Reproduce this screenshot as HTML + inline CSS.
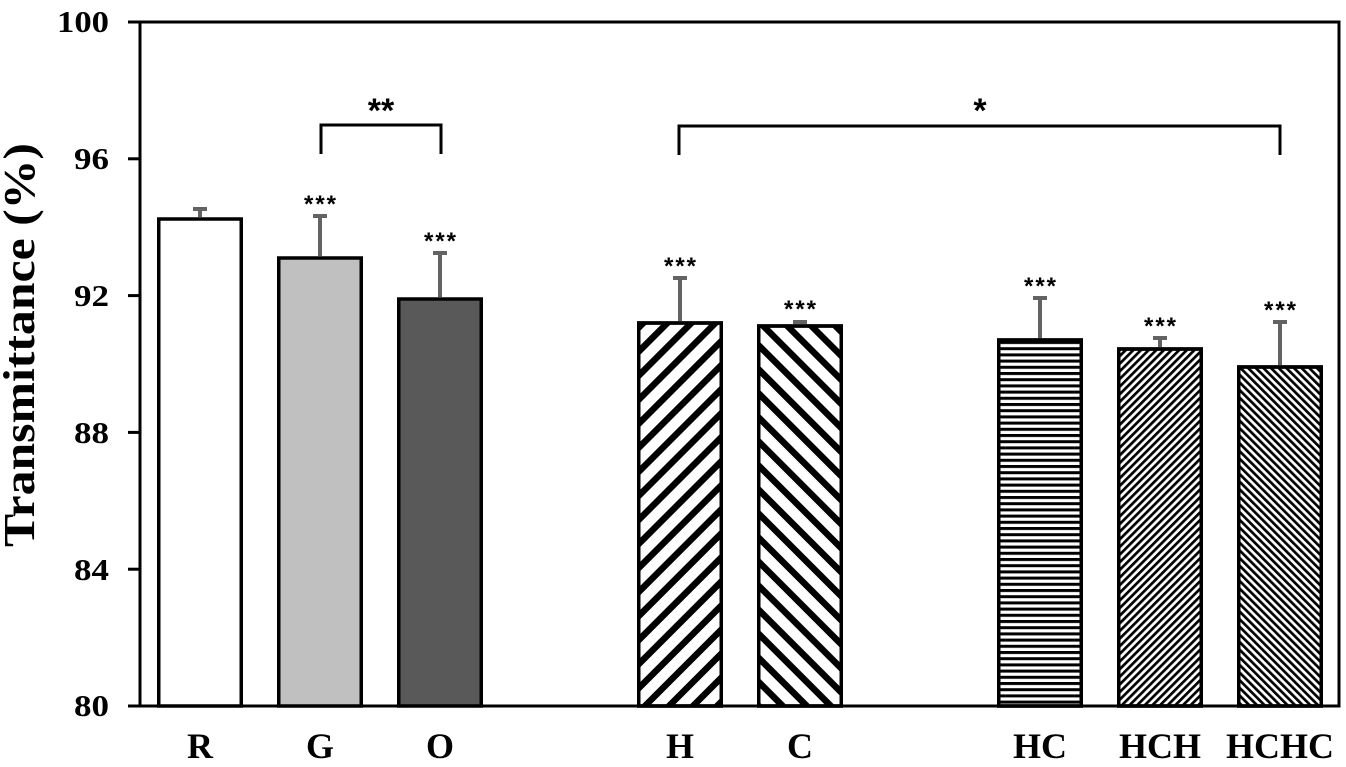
<!DOCTYPE html>
<html><head><meta charset="utf-8"><style>
html,body{margin:0;padding:0;background:#fff;}
svg{display:block;}
</style></head><body>
<svg width="1346" height="767" viewBox="0 0 1346 767" xmlns="http://www.w3.org/2000/svg">
<defs>
<pattern id="pH" patternUnits="userSpaceOnUse" width="17" height="17" patternTransform="rotate(45)">
<rect x="0" y="0" width="6.5" height="17" fill="#000"/></pattern>
<pattern id="pC" patternUnits="userSpaceOnUse" width="17" height="17" patternTransform="rotate(-45)">
<rect x="0" y="0" width="6.5" height="17" fill="#000"/></pattern>
<pattern id="pHC" patternUnits="userSpaceOnUse" width="10" height="6.2">
<rect x="0" y="0" width="10" height="3" fill="#000"/></pattern>
<pattern id="pHCH" patternUnits="userSpaceOnUse" width="5.4" height="5.4" patternTransform="rotate(45)">
<rect x="0" y="0" width="2.7" height="5.4" fill="#000"/></pattern>
<pattern id="pHCHC" patternUnits="userSpaceOnUse" width="5.4" height="5.4" patternTransform="rotate(-45)">
<rect x="0" y="0" width="2.7" height="5.4" fill="#000"/></pattern>
</defs>

<!-- frame -->
<rect x="140" y="22" width="1199" height="684" fill="none" stroke="#000" stroke-width="3"/>
<!-- ticks -->
<g stroke="#000" stroke-width="3">
<line x1="128" y1="22" x2="140" y2="22"/>
<line x1="128" y1="158.8" x2="140" y2="158.8"/>
<line x1="128" y1="295.6" x2="140" y2="295.6"/>
<line x1="128" y1="432.4" x2="140" y2="432.4"/>
<line x1="128" y1="569.2" x2="140" y2="569.2"/>
<line x1="128" y1="706" x2="140" y2="706"/>
</g>
<g font-family="'Liberation Serif', serif" font-weight="bold" font-size="31" text-anchor="end" fill="#000">
<text x="109" y="32" textLength="52" lengthAdjust="spacingAndGlyphs">100</text>
<text x="109" y="169" textLength="35" lengthAdjust="spacingAndGlyphs">96</text>
<text x="109" y="306" textLength="35" lengthAdjust="spacingAndGlyphs">92</text>
<text x="109" y="443" textLength="35" lengthAdjust="spacingAndGlyphs">88</text>
<text x="109" y="580" textLength="35" lengthAdjust="spacingAndGlyphs">84</text>
<text x="109" y="716" textLength="35" lengthAdjust="spacingAndGlyphs">80</text>
</g>
<text transform="translate(34,345) rotate(-90)" text-anchor="middle" font-family="'Liberation Serif', serif" font-weight="bold" font-size="44" textLength="404" lengthAdjust="spacingAndGlyphs">Transmittance  (%)</text>

<!-- bars -->
<g stroke="#000" stroke-width="3.5">
<rect x="158.75" y="219" width="82.5" height="487" fill="#fff"/>
<rect x="278.75" y="258" width="82.5" height="448" fill="#c0c0c0"/>
<rect x="398.75" y="299" width="82.5" height="407" fill="#595959"/>
<rect x="638.75" y="323" width="82.5" height="383" fill="#fff"/>
<rect x="638.75" y="323" width="82.5" height="383" fill="url(#pH)"/>
<rect x="758.75" y="326" width="82.5" height="380" fill="#fff"/>
<rect x="758.75" y="326" width="82.5" height="380" fill="url(#pC)"/>
<rect x="998.75" y="340" width="82.5" height="366" fill="#fff"/>
<rect x="998.75" y="340" width="82.5" height="366" fill="url(#pHC)"/>
<rect x="1118.75" y="349" width="82.5" height="357" fill="#fff"/>
<rect x="1118.75" y="349" width="82.5" height="357" fill="url(#pHCH)"/>
<rect x="1238.75" y="367" width="82.5" height="339" fill="#fff"/>
<rect x="1238.75" y="367" width="82.5" height="339" fill="url(#pHCHC)"/>
</g>
<line x1="140" y1="706" x2="1339" y2="706" stroke="#000" stroke-width="3"/>

<!-- error bars -->
<g stroke="#636363" stroke-width="4" fill="none">
<path d="M200 217 V209 M193 209 H207"/>
<path d="M320 256 V216 M313 216 H327"/>
<path d="M440 297 V253 M433 253 H447"/>
<path d="M680 321 V278 M673 278 H687"/>
<path d="M800 324 V322 M793 322 H807"/>
<path d="M1040 338 V298 M1033 298 H1047"/>
<path d="M1160 347 V338 M1153 338 H1167"/>
<path d="M1280 365 V322 M1273 322 H1287"/>
</g>

<!-- significance stars -->
<g font-family="'Liberation Sans', sans-serif" font-weight="bold" font-size="24" text-anchor="middle" fill="#000" letter-spacing="2">
<text x="321" y="212">***</text>
<text x="441" y="249">***</text>
<text x="681" y="274">***</text>
<text x="801" y="317">***</text>
<text x="1041" y="294">***</text>
<text x="1161" y="334">***</text>
<text x="1281" y="318">***</text>
</g>

<!-- brackets -->
<g stroke="#000" stroke-width="3" fill="none">
<path d="M321 154 V125 H441 V154"/>
<path d="M679 155 V126 H1280 V155"/>
</g>
<g font-family="'Liberation Sans', sans-serif" font-weight="bold" font-size="34" text-anchor="middle" fill="#000">
<text x="381" y="122">**</text>
<text x="980" y="122">*</text>
</g>

<!-- x labels -->
<g font-family="'Liberation Serif', serif" font-weight="bold" font-size="36" text-anchor="middle" fill="#000">
<text x="200" y="758">R</text>
<text x="320" y="758">G</text>
<text x="440" y="758">O</text>
<text x="680" y="758">H</text>
<text x="800" y="758">C</text>
<text x="1040" y="758">HC</text>
<text x="1160" y="758">HCH</text>
<text x="1280" y="758">HCHC</text>
</g>
</svg>
</body></html>
